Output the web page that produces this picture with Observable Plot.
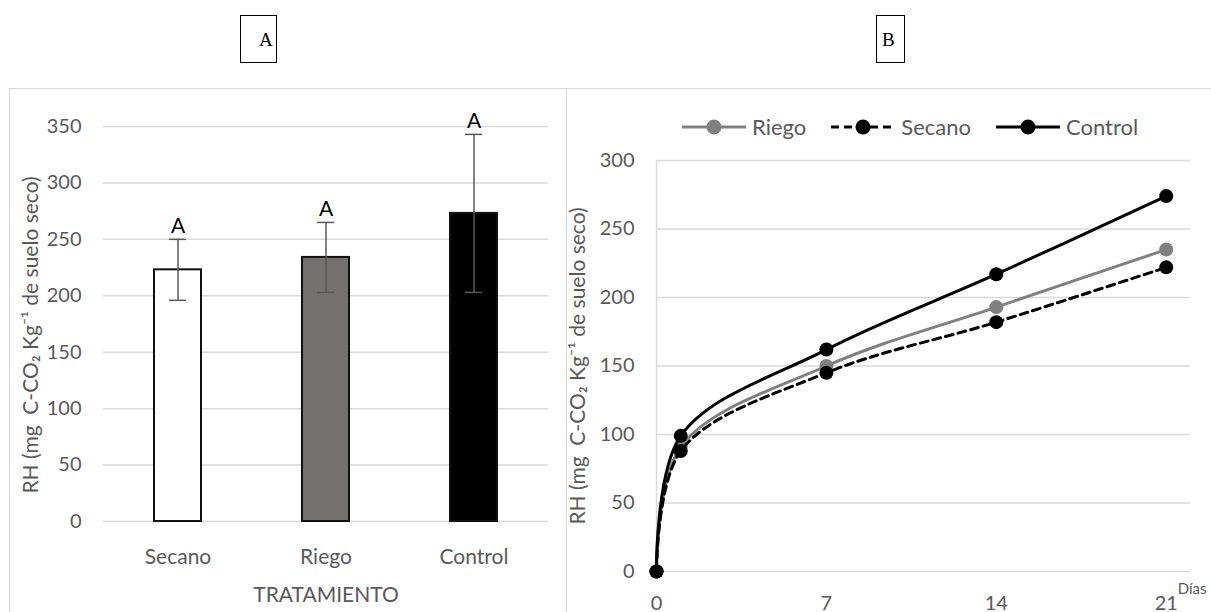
<!DOCTYPE html>
<html><head><meta charset="utf-8">
<script src="https://cdn.jsdelivr.net/npm/d3@7"></script>
<script src="https://cdn.jsdelivr.net/npm/@observablehq/plot@0.6"></script>
<style>
body{margin:0;background:#fff;width:1211px;height:612px;overflow:hidden;position:relative;font-family:Lato,sans-serif;}
.frame{position:absolute;border:1.5px solid #d9d9d9;box-sizing:border-box;}
.tag{position:absolute;border:1.5px solid #000;box-sizing:border-box;font-family:"Liberation Serif",serif;font-size:19px;color:#000;}
.plot{position:absolute;}
.legend{position:absolute;left:681px;top:113px;display:flex;align-items:center;font-family:Lato,sans-serif;font-size:22px;color:#595959;white-space:nowrap;}
.legend .item{display:flex;align-items:center;margin-right:24px;}
.legend svg{margin-right:5px;}
</style></head><body>
<div class="frame" style="left:9px;top:88px;width:558px;height:560px"></div>
<div class="frame" style="left:566px;top:88px;width:660px;height:560px"></div>
<div class="tag" style="left:240px;top:15px;width:37px;height:48px"><span style="position:absolute;left:18px;top:13px">A</span></div>
<div class="tag" style="left:876px;top:15px;width:29px;height:48px"><span style="position:absolute;left:5px;top:13px">B</span></div>
<div id="pa" class="plot" style="left:9px;top:88px"></div>
<div id="pb" class="plot" style="left:566px;top:88px"></div>
<div id="leg" class="legend"></div>
<script>
// ---- data ----
const treatments = ["Secano", "Riego", "Control"];
const rhMean = [223, 234, 273];
const rhErr = [27, 31, 70];
const sigLetters = ["A", "A", "A"];
const yTicksA = [0, 50, 100, 150, 200, 250, 300, 350];

const days = [0, 1, 7, 14, 21];
const seriesNames = ["Riego", "Secano", "Control"];
const riego = [0, 91, 150, 193, 235];
const secano = [0, 88, 145, 182, 222];
const control = [0, 99, 162, 217, 274];
const yTicksB = [0, 50, 100, 150, 200, 250, 300];
const xTicksB = [0, 7, 14, 21];

const yLabel = "RH (mg  C-CO₂ Kg⁻¹ de suelo seco)";
const xLabelA = "TRATAMIENTO";
const daysLabel = "Días";

const txt = "#595959";
const grid = "#d9d9d9";
const labelStyle = {fontSize: 21, fill: txt, rotate: -90, textAnchor: "middle", lineAnchor: "middle"};

// ---- panel A ----
const barData = treatments.map((t, i) => ({t, v: rhMean[i], lo: rhMean[i] - rhErr[i], hi: rhMean[i] + rhErr[i], L: sigLetters[i]}));
const plotA = Plot.plot({
  width: 557, height: 524, marginLeft: 94, marginRight: 18, marginTop: 38, marginBottom: 91,
  style: {fontFamily: "Lato, sans-serif", fontSize: "20px", color: txt, background: "transparent", overflow: "visible"},
  x: {domain: treatments, paddingInner: 0.683, paddingOuter: 0.342},
  y: {domain: [0, 350]},
  color: {domain: treatments, range: ["#ffffff", "#767171", "#000000"]},
  marks: [
    Plot.gridY(yTicksA, {stroke: grid, strokeOpacity: 1, strokeWidth: 1.5}),
    Plot.barY(barData, {x: "t", y: "v", fill: "t", stroke: "#111", strokeWidth: 2}),
    Plot.ruleX(barData, {x: "t", y1: "lo", y2: "hi", stroke: "#595959", strokeWidth: 1.5}),
    Plot.tickY(barData, {x: "t", y: "hi", insetLeft: 15, insetRight: 15, stroke: "#595959", strokeWidth: 1.5}),
    Plot.tickY(barData, {x: "t", y: "lo", insetLeft: 15, insetRight: 15, stroke: "#595959", strokeWidth: 1.5}),
    Plot.text(barData, {x: "t", y: "hi", text: "L", lineAnchor: "middle", dy: -13, fill: "#000", fontSize: 21}),
    Plot.axisY(yTicksA, {tickSize: 0, tickPadding: 22, label: null}),
    Plot.text([yLabel], {...labelStyle, frameAnchor: "left", dx: -72, dy: 11, text: d => d, style: "word-spacing:4px;letter-spacing:0.3px"}),
    Plot.axisX({tickSize: 0, tickPadding: 28, label: xLabelA, labelAnchor: "center", labelArrow: "none", labelOffset: 80, fontSize: 21})
  ]
});
document.getElementById("pa").append(plotA);

// ---- panel B ----
const seriesVals = {Riego: riego, Secano: secano, Control: control};
const lineData = seriesNames.flatMap(s => days.map((d, i) => ({s, d, v: seriesVals[s][i]})));
const sty = {
  Riego: {stroke: "#808080", dash: null},
  Secano: {stroke: "#000000", dash: "8,5"},
  Control: {stroke: "#000000", dash: null}
};
const lineMarks = seriesNames.flatMap(s => {
  const data = lineData.filter(d => d.s === s);
  return [
    Plot.line(data, {x: "d", y: "v", stroke: sty[s].stroke, strokeWidth: 3, strokeDasharray: sty[s].dash, curve: "catmull-rom"}),
    Plot.dot(data, {x: "d", y: "v", r: 7, fill: sty[s].stroke, stroke: "none"})
  ];
});
const plotB = Plot.plot({
  width: 645, height: 524, marginLeft: 90, marginRight: 21, marginTop: 72, marginBottom: 41,
  style: {fontFamily: "Lato, sans-serif", fontSize: "20px", color: txt, background: "transparent", overflow: "visible"},
  x: {domain: [0, 22]},
  y: {domain: [0, 300]},
  marks: [
    Plot.gridY(yTicksB, {stroke: grid, strokeOpacity: 1, strokeWidth: 1.5}),
    Plot.ruleX([0], {stroke: grid, strokeWidth: 1.5}),
    ...lineMarks,
    Plot.axisY(yTicksB, {tickSize: 0, tickPadding: 22, label: null}),
    Plot.text([yLabel], {...labelStyle, frameAnchor: "left", dx: -78, dy: 0, text: d => d, style: "word-spacing:4px;letter-spacing:0.3px"}),
    Plot.axisX(xTicksB, {tickSize: 0, tickPadding: 24, label: null}),
    Plot.text([daysLabel], {frameAnchor: "bottom-right", dx: 16, dy: 22, fontSize: 15, fill: txt, textAnchor: "end", text: d => d})
  ]
});
document.getElementById("pb").append(plotB);

// ---- legend ----
const leg = document.getElementById("leg");
seriesNames.forEach(s => {
  const item = document.createElement("div");
  item.className = "item";
  const dash = sty[s].dash ? `stroke-dasharray="${sty[s].dash}"` : "";
  item.innerHTML = `<svg width="66" height="18"><line x1="1" y1="9" x2="65" y2="9" stroke="${sty[s].stroke}" stroke-width="3" ${dash}/><circle cx="33" cy="9" r="7.5" fill="${sty[s].stroke}"/></svg><span>${s}</span>`;
  leg.append(item);
});
</script>
</body></html>
